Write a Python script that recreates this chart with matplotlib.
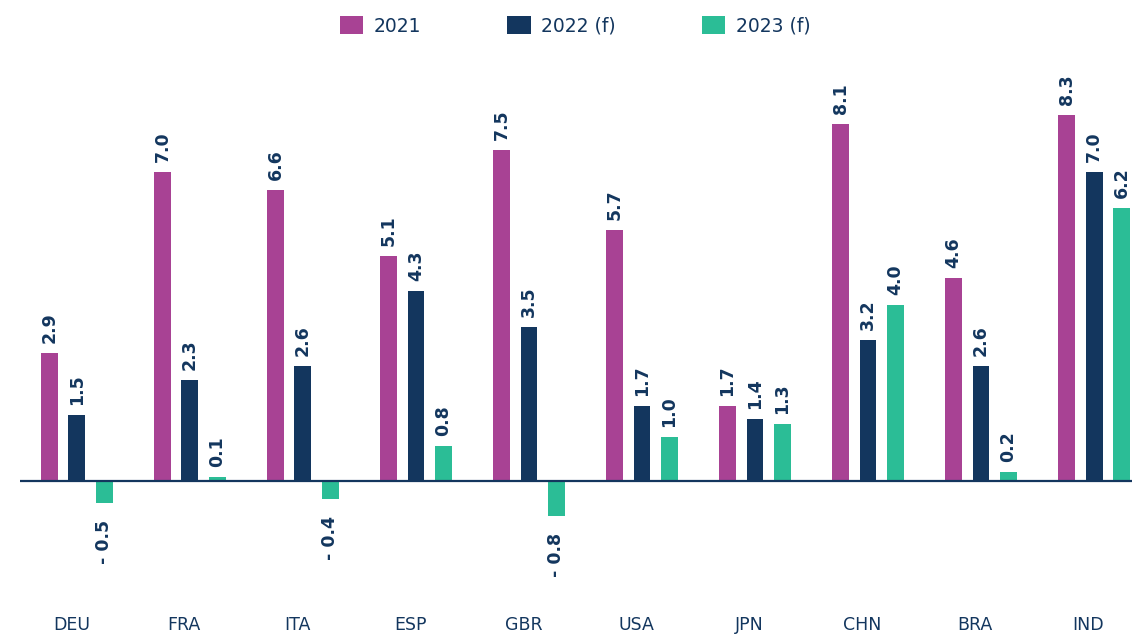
import matplotlib
matplotlib.use("Agg")
import matplotlib.pyplot as plt
from matplotlib.patches import Patch
from matplotlib import transforms
import numpy as np

countries = ["DEU", "FRA", "ITA", "ESP", "GBR", "USA", "JPN", "CHN", "BRA", "IND"]
series_names = ["2021", "2022 (f)", "2023 (f)"]
v2021 = [2.9, 7.0, 6.6, 5.1, 7.5, 5.7, 1.7, 8.1, 4.6, 8.3]
v2022 = [1.5, 2.3, 2.6, 4.3, 3.5, 1.7, 1.4, 3.2, 2.6, 7.0]
v2023 = [-0.5, 0.1, -0.4, 0.8, -0.8, 1.0, 1.3, 4.0, 0.2, 6.2]

colors = ["#A84294", "#13365E", "#2BBD96"]
navy = "#13365E"
plt.rcParams['font.family'] = ['DejaVu Sans']

W, H = 1132, 638
fig = plt.figure(figsize=(W / 100, H / 100), dpi=100)
base_y = 481
ppu = 44.1
top_px, bot_px = 62, 612
ax = fig.add_axes([20 / W, 1 - bot_px / H, 1 - 20 / W, (bot_px - top_px) / H])
ax.set_ylim(-(bot_px - base_y) / ppu, (base_y - top_px) / ppu)
ax.set_xlim(-0.504, 9.336)

x = np.arange(len(countries))
offs = [-0.243, 0.0, 0.243]
width = 0.15
for s, (vals, c, name) in enumerate(zip([v2021, v2022, v2023], colors, series_names)):
    ax.bar(x + offs[s], vals, width=width, color=c, label=name, zorder=2)
    for xi, v in zip(x + offs[s], vals):
        if v >= 0:
            tr = transforms.offset_copy(ax.transData, fig=fig, x=0, y=10, units='dots')
            ax.text(xi, v, f"{v:.1f}", rotation=90, ha='center', va='bottom',
                    fontsize=12.5, fontweight='bold', color=navy, transform=tr)
        else:
            tr = transforms.offset_copy(ax.transData, fig=fig, x=0, y=-17, units='dots')
            ax.text(xi, v, f"- {abs(v):.1f}", rotation=90, ha='center', va='top',
                    fontsize=12.5, fontweight='bold', color=navy, transform=tr)

ax.axhline(0, color=navy, lw=1.6, zorder=3)
for sp in ax.spines.values():
    sp.set_visible(False)
ax.set_yticks([])
ax.set_xticks(x - 0.05)
ax.set_xticklabels(countries, fontsize=12.5, color=navy)
ax.tick_params(axis='x', length=0, pad=3)

handles = [Patch(facecolor=c, label=n) for c, n in zip(colors, series_names)]
fig.legend(handles=handles, loc='center', bbox_to_anchor=(575 / W, 1 - 26 / H),
           ncol=3, frameon=False, fontsize=13.5, labelcolor=navy,
           handlelength=1.25, handleheight=1.05, handletextpad=0.55,
           columnspacing=4.6)

fig.savefig("out.png", dpi=100)
